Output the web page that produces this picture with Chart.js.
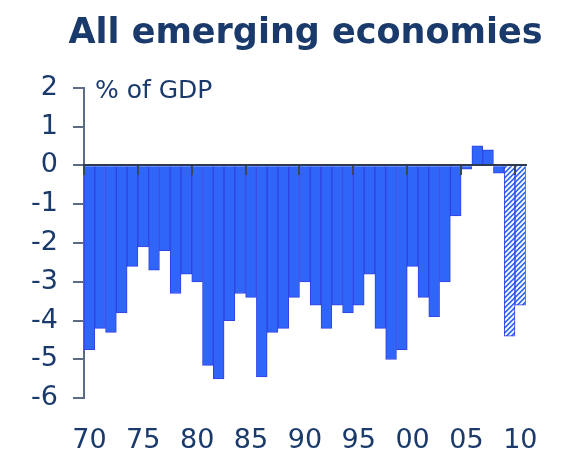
<!DOCTYPE html>
<html>
<head>
<meta charset="utf-8">
<script src="https://cdn.jsdelivr.net/npm/chart.js@4.4.1/dist/chart.umd.min.js"></script>
<style>
html,body{margin:0;padding:0;background:#ffffff;}
#wrap{width:564px;height:454px;}
</style>
</head>
<body>
<div id="wrap"><canvas id="c" width="564" height="454"></canvas></div>
<script>
// ---- data ----
const titleText = 'All emerging economies';
const unitText = '% of GDP';
const years = [
  1970, 1971, 1972, 1973, 1974, 1975, 1976, 1977, 1978, 1979,
  1980, 1981, 1982, 1983, 1984, 1985, 1986, 1987, 1988, 1989,
  1990, 1991, 1992, 1993, 1994, 1995, 1996, 1997, 1998, 1999,
  2000, 2001, 2002, 2003, 2004, 2005, 2006, 2007, 2008, 2009,
  2010
];
const balance = [
  -4.75, -4.2, -4.3, -3.8, -2.6, -2.1, -2.7, -2.2, -3.3, -2.8,
  -3.0, -5.15, -5.5, -4.0, -3.3, -3.4, -5.45, -4.3, -4.2, -3.4,
  -3.0, -3.6, -4.2, -3.6, -3.8, -3.6, -2.8, -4.2, -5.0, -4.75,
  -2.6, -3.4, -3.9, -3.0, -1.3, -0.1, 0.5, 0.4, -0.2, -4.4,
  -3.6
];
const forecastYears = [2009, 2010];
const yMin = -6, yMax = 2, yStep = 1;
const labelEvery = 5;

// ---- styles ----
const BLUE = '#2f66f8';
const BLUE_EDGE = '#3341e2';
const TXT = '#1b3a6c';
const AXIS = '#5b6c84';
const ZERO = '#2e3a52';
const TICK = '#3b4658';
const FONT = '"DejaVu Sans", Verdana, sans-serif';

function hatchPattern() {
  const p = 5;
  const c = document.createElement('canvas');
  c.width = p; c.height = p;
  const g = c.getContext('2d');
  g.fillStyle = BLUE;
  g.fillRect(0, 0, p, p);
  g.strokeStyle = '#ffffff';
  g.lineWidth = 1.9;
  g.beginPath();
  g.moveTo(0, p); g.lineTo(p, 0);
  g.moveTo(-1, 1); g.lineTo(1, -1);
  g.moveTo(p - 1, p + 1); g.lineTo(p + 1, p - 1);
  g.stroke();
  return g.createPattern(c, 'repeat');
}
const HATCH = hatchPattern();

Chart.defaults.font.family = FONT;

const textPlugin = {
  id: 'texts',
  afterDraw(chart) {
    const ctx = chart.ctx;
    const a = chart.chartArea;
    ctx.save();
    ctx.fillStyle = TXT;
    ctx.font = 'bold 35px ' + FONT;
    ctx.textAlign = 'center';
    ctx.textBaseline = 'alphabetic';
    ctx.fillText(titleText, 305.5, 43);
    ctx.font = '25px ' + FONT;
    ctx.textAlign = 'left';
    ctx.fillText(unitText, a.left + 11, a.top + 10.5);
    ctx.restore();
  }
};

new Chart(document.getElementById('c'), {
  type: 'bar',
  data: {
    labels: years.map(String),
    datasets: [{
      data: balance,
      backgroundColor: ctx => forecastYears.includes(years[ctx.dataIndex]) ? HATCH : BLUE,
      borderColor: BLUE_EDGE,
      borderWidth: 1,
      barPercentage: 1,
      categoryPercentage: 1
    }]
  },
  options: {
    responsive: false,
    devicePixelRatio: 1,
    animation: false,
    layout: { padding: { top: 87.7, right: 37, bottom: 0, left: 0 } },
    plugins: { legend: { display: false }, tooltip: { enabled: false }, title: { display: false } },
    scales: {
      x: {
        type: 'category',
        offset: true,
        grid: { display: false, drawTicks: false, offset: true },
        border: { display: false },
        ticks: {
          autoSkip: false, maxRotation: 0, minRotation: 0,
          padding: 26, color: TXT, font: { size: 27 },
          callback(v) {
            const y = +this.getLabelForValue(v);
            return y % labelEvery === 0 ? String(y).slice(2) : '';
          }
        },
        afterFit(s) { s.height = 55.7; }
      },
      x2: {
        type: 'category',
        position: { y: 0 },
        offset: true,
        grid: {
          z: 1,
          offset: true, drawOnChartArea: false, drawTicks: true, tickLength: 9,
          tickWidth: 2, lineWidth: 2,
          tickColor: ctx => (ctx.index !== undefined && years[ctx.index] % labelEvery === 0) ? TICK : 'rgba(0,0,0,0)',
          color: 'rgba(0,0,0,0)'
        },
        border: { display: true, color: ZERO, width: 2, z: 1 },
        ticks: { display: false, autoSkip: false }
      },
      y: {
        min: yMin, max: yMax,
        ticks: { stepSize: yStep, color: TXT, font: { size: 27 }, padding: 15 },
        grid: { drawOnChartArea: false, drawTicks: true, tickLength: 11, color: AXIS, lineWidth: 2 },
        border: { display: true, color: AXIS, width: 2 },
        afterFit(s) { s.width = 84; }
      }
    }
  },
  plugins: [textPlugin]
});
</script>
</body>
</html>
